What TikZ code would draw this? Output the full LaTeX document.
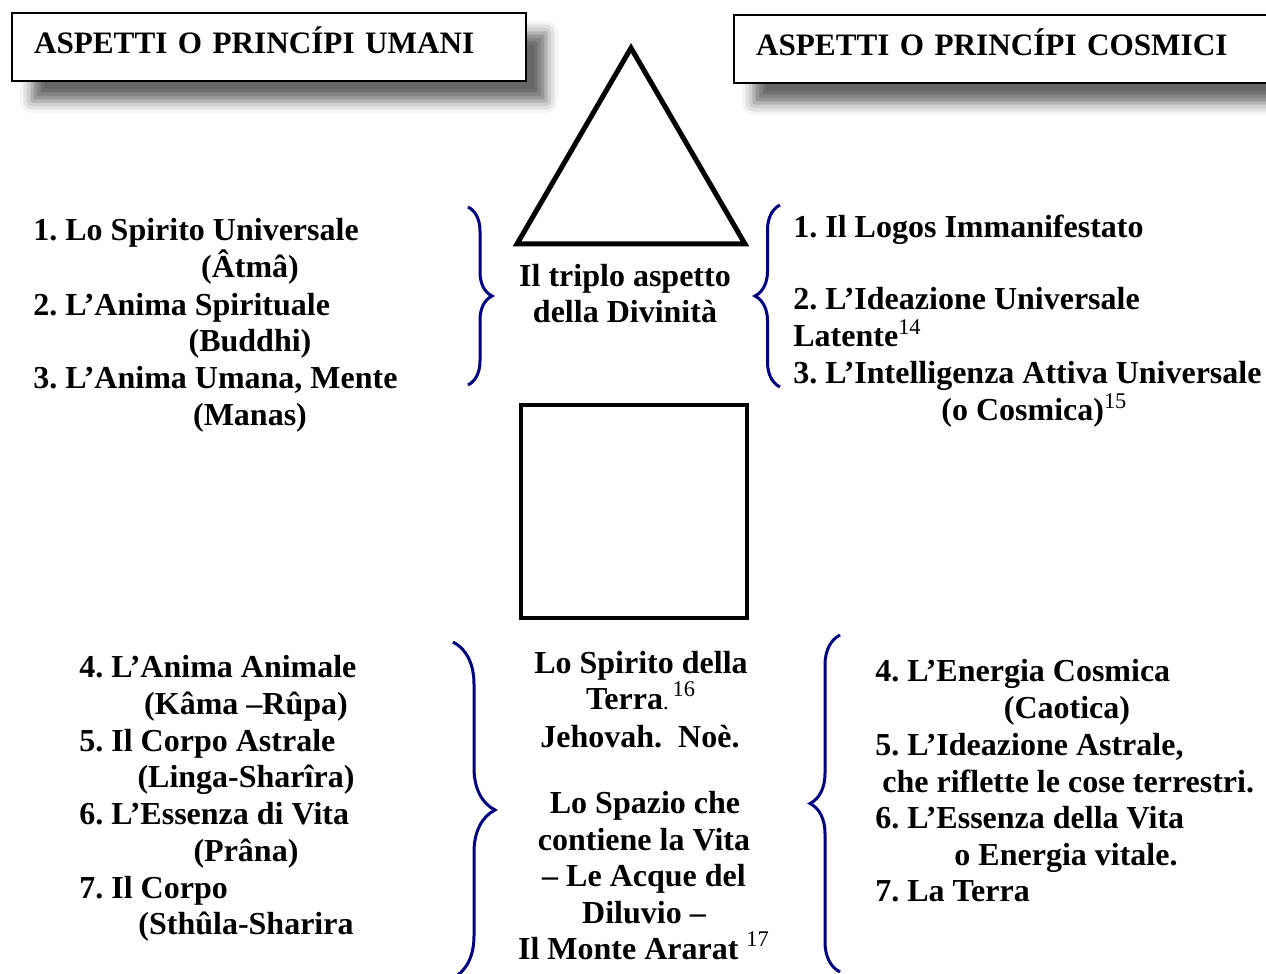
\documentclass[tikz,border=0pt]{standalone}
\usepackage{fontspec}
\setmainfont{Liberation Serif}
\usetikzlibrary{decorations.pathreplacing,shadows.blur}
\definecolor{bracenavy}{RGB}{0,0,128}
\newcommand\fnum[1]{\textsuperscript{\mdseries #1}}
\frenchspacing
\begin{document}
\begin{tikzpicture}[x=0.5pt,y=-0.5pt,
  every node/.style={font=\fontsize{16}{18.5}\selectfont\bfseries, inner sep=0pt},
  item/.style={anchor=base west},
  sub/.style={anchor=base},
  header/.style={draw, line width=1pt, fill=white, anchor=north west, align=left,
    font=\fontsize{15.6}{18}\selectfont\bfseries,
    inner xsep=11pt, inner ysep=10pt, text height=10.5pt, text depth=3.5pt,
    blur shadow={shadow xshift=10pt, shadow yshift=-10pt, shadow blur radius=6pt, shadow opacity=60}},
  bracket/.style={draw=bracenavy, line width=1.5pt, decorate, decoration={brace, amplitude=#1}}]
\useasboundingbox (0,0) rectangle (1266,974);
% intestazioni
\node[header, text width=235pt] (humhead) at (11,12) {ASPETTI O PRINCÍPI UMANI};
\node[header, text width=262pt] (coshead) at (733,14) {ASPETTI O PRINCÍPI COSMICI};
% triangolo e quadrato
\draw[line width=2.5pt] (631,48) -- (517,244) -- (745,244) -- cycle;
\draw[line width=2pt] (521,405) rectangle (747,618);
% graffe
\draw[bracket=12pt] (468,207) -- (468,385);
\draw[bracket=12.5pt] (780,387) -- (780,205);
\draw[bracket=21pt] (453,642) -- (453,978);
\draw[bracket=15pt] (840,972) -- (840,635);
% principi umani superiori
\node[item] (hu1) at (33,241) {1. Lo Spirito Universale};
\node[sub] (hu1b) at (250,278) {(Âtmâ)};
\node[item] (hu2) at (33,315) {2. L’Anima Spirituale};
\node[sub] (hu2b) at (250,351) {(Buddhi)};
\node[item] (hu3) at (33,388) {3. L’Anima Umana, Mente};
\node[sub] (hu3b) at (250,425) {(Manas)};
% principi umani inferiori
\node[item] (hl4) at (79,677) {4. L’Anima Animale};
\node[sub] (hl4b) at (246,714) {(Kâma –Rûpa)};
\node[item] (hl5) at (79,751) {5. Il Corpo Astrale};
\node[sub] (hl5b) at (246,787) {(Linga-Sharîra)};
\node[item] (hl6) at (79,824) {6. L’Essenza di Vita};
\node[sub] (hl6b) at (246,861) {(Prâna)};
\node[item] (hl7) at (79,898) {7. Il Corpo};
\node[sub] (hl7b) at (246,934) {(Sthûla-Sharira};
% centro
\node[sub] (tri1) at (625,286) {Il triplo aspetto};
\node[sub] (tri2) at (625,322) {della Divinità};
\node[sub] (ter1) at (641,673) {Lo Spirito della};
\node[sub] (ter2) at (641,709) {Terra{\mdseries\fontsize{11}{11}\selectfont.}\kern2pt\fnum{16}};
\node[sub] (ter3) at (640,747) {Jehovah.\ \ Noè.};
\node[sub] (spa1) at (645,813) {Lo Spazio che};
\node[sub] (spa2) at (644,850) {contiene la Vita};
\node[sub] (spa3) at (644,886) {– Le Acque del};
\node[sub] (spa4) at (644,923) {Diluvio –};
\node[sub] (spa5) at (644,959) {Il Monte Ararat \fnum{17}};
% principi cosmici superiori
\node[item] (cu1) at (793,238) {1. Il Logos Immanifestato};
\node[item] (cu2) at (793,310) {2. L’Ideazione Universale};
\node[item] (cu2b) at (793,347) {Latente\fnum{14}};
\node[item] (cu3) at (793,384) {3. L’Intelligenza Attiva Universale};
\node[item] (cu3b) at (941,421) {(o Cosmica)\fnum{15}};
% principi cosmici inferiori
\node[item] (cl4) at (875,681) {4. L’Energia Cosmica};
\node[sub] (cl4b) at (1067,718) {(Caotica)};
\node[item] (cl5) at (875,755) {5. L’Ideazione Astrale,};
\node[item] (cl5b) at (882,792) {che riflette le cose terrestri.};
\node[item] (cl6) at (875,828) {6. L’Essenza della Vita};
\node[sub] (cl6b) at (1066,865) {o Energia vitale.};
\node[item] (cl7) at (875,901) {7. La Terra};
\end{tikzpicture}
\end{document}
